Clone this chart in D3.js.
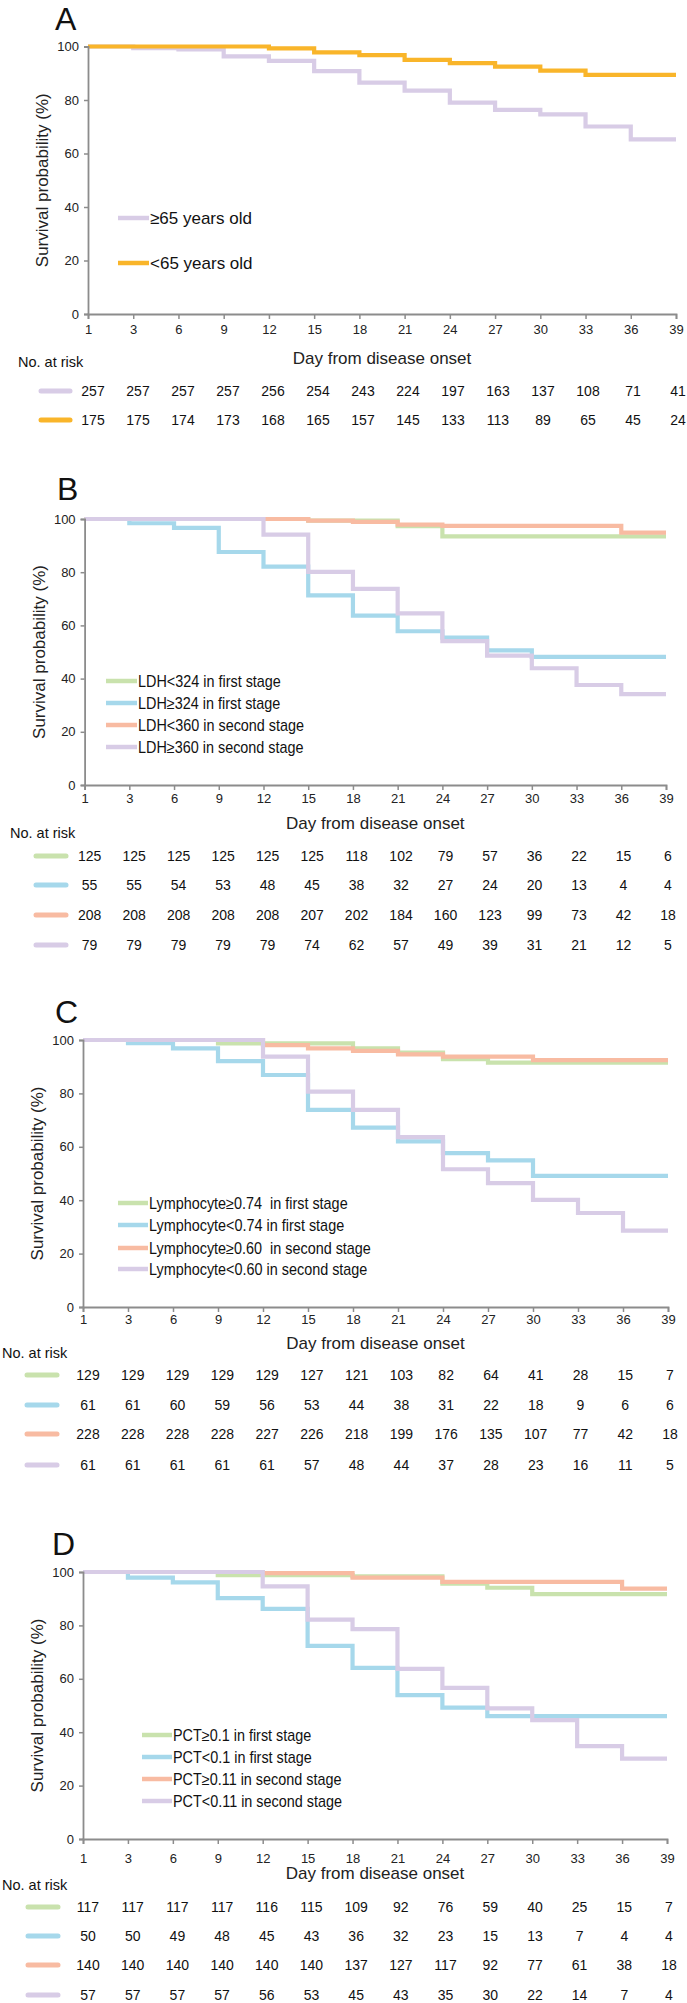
<!DOCTYPE html>
<html>
<head>
<meta charset="utf-8">
<script src="https://cdn.jsdelivr.net/npm/d3@7"></script>
<style>
  html, body { margin: 0; padding: 0; background: #fff; }
  svg { display: block; font-family: "Liberation Sans", Arial, sans-serif; }
  text { white-space: pre; }
</style>
</head>
<body>
<svg id="chart" width="687" height="2003"></svg>
<script>
// ---------- data ----------
const days = ["1","3","6","9","12","15","18","21","24","27","30","33","36","39"];
const yTicks = [0, 20, 40, 60, 80, 100];

// Panel A: survival (%) on each interval between consecutive day ticks
const survA_old   = [100, 99.4, 98.9, 96.3, 94.6, 90.8, 86.5, 83.5, 79.0, 76.3, 74.6, 70.1, 65.3];
const survA_young = [100, 100, 100, 100, 99.3, 97.8, 96.8, 95.0, 93.8, 92.5, 91.0, 89.4, 89.4];
const riskA_old   = [257,257,257,257,256,254,243,224,197,163,137,108,71,41];
const riskA_young = [175,175,174,173,168,165,157,145,133,113,89,65,45,24];
const labelsA = ["\u226565 years old", "<65 years old"];

// Panel B: LDH
const survB1 = [100, 100, 100, 100, 100, 99.4, 99.4, 97.3, 93.5, 93.5, 93.5, 93.5, 93.5];
const survB2 = [100, 98.4, 96.7, 87.6, 82.1, 71.3, 63.7, 57.8, 55.4, 50.6, 48.2, 48.2, 48.2];
const survB3 = [100, 100, 100, 100, 100, 99.4, 98.9, 97.9, 97.4, 97.4, 97.4, 97.4, 94.9];
const survB4 = [100, 100, 100, 100, 94.1, 80.1, 73.7, 64.5, 54.1, 48.6, 43.9, 37.6, 34.2];
const riskB1 = [125,125,125,125,125,125,118,102,79,57,36,22,15,6];
const riskB2 = [55,55,54,53,48,45,38,32,27,24,20,13,4,4];
const riskB3 = [208,208,208,208,208,207,202,184,160,123,99,73,42,18];
const riskB4 = [79,79,79,79,79,74,62,57,49,39,31,21,12,5];
const labelsB = ["LDH<324 in first stage", "LDH\u2265324 in first stage", "LDH<360 in second stage", "LDH\u2265360 in second stage"];

// Panel C: Lymphocyte
const survC1 = [100, 100, 100, 98.7, 98.7, 98.7, 96.9, 95.3, 92.8, 91.5, 91.5, 91.5, 91.5];
const survC2 = [100, 98.8, 96.9, 92.1, 86.9, 73.8, 67.2, 62.0, 57.6, 54.9, 49.1, 49.1, 49.1];
const survC3 = [100, 100, 100, 100, 98.1, 96.9, 95.9, 94.6, 93.8, 93.8, 92.5, 92.5, 92.5];
const survC4 = [100, 100, 100, 100, 93.8, 80.7, 73.8, 63.6, 51.6, 46.4, 40.1, 35.2, 28.6];
const riskC1 = [129,129,129,129,129,127,121,103,82,64,41,28,15,7];
const riskC2 = [61,61,60,59,56,53,44,38,31,22,18,9,6,6];
const riskC3 = [228,228,228,228,227,226,218,199,176,135,107,77,42,18];
const riskC4 = [61,61,61,61,61,57,48,44,37,28,23,16,11,5];
const labelsC = ["Lymphocyte\u22650.74  in first stage", "Lymphocyte<0.74 in first stage", "Lymphocyte\u22650.60  in second stage", "Lymphocyte<0.60 in second stage"];

// Panel D: PCT
const survD1 = [100, 100, 100, 98.8, 98.8, 98.8, 98.4, 98.4, 95.6, 94.1, 91.7, 91.7, 91.7];
const survD2 = [100, 97.9, 96.1, 90.2, 86.2, 72.3, 64.1, 53.9, 49.2, 46.0, 46.0, 46.0, 46.0];
const survD3 = [100, 100, 100, 100, 99.6, 99.6, 97.9, 97.9, 96.3, 96.3, 96.3, 96.3, 93.8];
const survD4 = [100, 100, 100, 100, 94.6, 82.2, 78.6, 63.7, 56.6, 48.9, 44.5, 34.8, 30.1];
const riskD1 = [117,117,117,117,116,115,109,92,76,59,40,25,15,7];
const riskD2 = [50,50,49,48,45,43,36,32,23,15,13,7,4,4];
const riskD3 = [140,140,140,140,140,140,137,127,117,92,77,61,38,18];
const riskD4 = [57,57,57,57,56,53,45,43,35,30,22,14,7,4];
const labelsD = ["PCT\u22650.1 in first stage", "PCT<0.1 in first stage", "PCT\u22650.11 in second stage", "PCT<0.11 in second stage"];

// ---------- styles ----------
const cLav = "#d8cce6", cYel = "#f9b52a", cGreen = "#c9e2ad", cBlue = "#a6d8eb", cSalmon = "#f8bba2";
const axisColor = "#8c8c8c";

const panels = [
  { letter: "A", lx: 55, ly: 30, x0: 88, x1: 676, yTop: 46.5, yBot: 314,
    tickPad: 6, titleY: 358, ytitleX: 42,
    series: [survA_old, survA_young], colors: [cLav, cYel], labels: labelsA,
    legX: 118, legW: 31, legY: [218, 263], legFont: 17, legScale: 1,
    riskLabelX: 18, riskLabelY: 362, risk: [riskA_old, riskA_young], riskY: [391, 420],
    swX: 41, swW: 29 },
  { letter: "B", lx: 57, ly: 500, x0: 84.6, x1: 666, yTop: 519, yBot: 785,
    tickPad: 4, titleY: 823, ytitleX: 39,
    series: [survB1, survB2, survB3, survB4], colors: [cGreen, cBlue, cSalmon, cLav], labels: labelsB,
    legX: 106, legW: 31, legY: [681, 703, 725, 747], legFont: 16, legScale: 0.9,
    riskLabelX: 10, riskLabelY: 833, risk: [riskB1, riskB2, riskB3, riskB4], riskY: [856, 885, 915, 945],
    swX: 36, swW: 30 },
  { letter: "C", lx: 55, ly: 1023, x0: 83, x1: 668, yTop: 1040, yBot: 1307,
    tickPad: 3, titleY: 1343, ytitleX: 37,
    series: [survC1, survC2, survC3, survC4], colors: [cGreen, cBlue, cSalmon, cLav], labels: labelsC,
    legX: 118, legW: 30, legY: [1203, 1225, 1248, 1269], legFont: 16, legScale: 0.9,
    riskLabelX: 2, riskLabelY: 1353, risk: [riskC1, riskC2, riskC3, riskC4], riskY: [1375, 1405, 1434, 1465],
    swX: 27, swW: 30 },
  { letter: "D", lx: 52, ly: 1555, x0: 83, x1: 667, yTop: 1572, yBot: 1839,
    tickPad: 10, titleY: 1873, ytitleX: 37,
    series: [survD1, survD2, survD3, survD4], colors: [cGreen, cBlue, cSalmon, cLav], labels: labelsD,
    legX: 142, legW: 30, legY: [1735, 1757, 1779, 1801], legFont: 16, legScale: 0.9,
    riskLabelX: 2, riskLabelY: 1885, risk: [riskD1, riskD2, riskD3, riskD4], riskY: [1907, 1936, 1965, 1995],
    swX: 28, swW: 30 }
];

const svg = d3.select("#chart");

panels.forEach(p => {
  const g = svg.append("g");
  const x = d3.scalePoint().domain(days).range([p.x0, p.x1]);
  const y = d3.scaleLinear().domain([0, 100]).range([p.yBot, p.yTop]);

  // panel letter
  g.append("text").attr("x", p.lx).attr("y", p.ly)
    .attr("font-size", 32).attr("fill", "#111").text(p.letter);

  // survival step curves
  const line = d3.line().x(d => x(d[0])).y(d => y(d[1])).curve(d3.curveStepAfter);
  p.series.forEach((s, i) => {
    const pts = s.map((v, k) => [days[k], v]);
    pts.push([days[days.length - 1], s[s.length - 1]]);
    g.append("path").attr("d", line(pts)).attr("fill", "none")
      .attr("stroke", p.colors[i]).attr("stroke-width", 4.2);
  });

  // axes
  const ya = g.append("g").attr("transform", `translate(${p.x0},0)`)
    .call(d3.axisLeft(y).tickValues(yTicks).tickSize(4).tickPadding(5));
  const xa = g.append("g").attr("transform", `translate(0,${p.yBot})`)
    .call(d3.axisBottom(x).tickSize(5).tickPadding(p.tickPad));
  [ya, xa].forEach(a => {
    a.select(".domain").attr("stroke", axisColor).attr("stroke-width", 1.8);
    a.selectAll(".tick line").attr("stroke", axisColor).attr("stroke-width", 1.5);
    a.selectAll(".tick text").attr("font-size", 13).attr("fill", "#222")
      .attr("font-family", "'Liberation Sans', Arial, sans-serif");
  });

  // axis titles
  g.append("text").attr("transform", `translate(${p.ytitleX},${(p.yTop + p.yBot) / 2}) rotate(-90)`)
    .attr("text-anchor", "middle").attr("dominant-baseline", "central")
    .attr("font-size", 17).attr("fill", "#222").text("Survival probability (%)");
  g.append("text").attr("x", (p.x0 + p.x1) / 2).attr("y", p.titleY)
    .attr("text-anchor", "middle").attr("dominant-baseline", "central")
    .attr("font-size", 17).attr("fill", "#222").text("Day from disease onset");

  // legend
  p.labels.forEach((lab, i) => {
    const ly = p.legY[i];
    g.append("line").attr("x1", p.legX).attr("x2", p.legX + p.legW)
      .attr("y1", ly).attr("y2", ly).attr("stroke", p.colors[i]).attr("stroke-width", 4.5);
    g.append("text")
      .attr("transform", `translate(${p.legX + p.legW + 1},${ly}) scale(${p.legScale},1)`)
      .attr("dominant-baseline", "central").attr("font-size", p.legFont)
      .attr("fill", "#111").text(lab);
  });

  // number at risk table
  g.append("text").attr("x", p.riskLabelX).attr("y", p.riskLabelY)
    .attr("dominant-baseline", "central").attr("font-size", 14.5).attr("fill", "#111")
    .text("No. at risk");
  const xr = d3.scalePoint().domain(days).range([p.x0 + 5, p.x1 + 2]);
  p.risk.forEach((row, i) => {
    const ry = p.riskY[i];
    g.append("line").attr("x1", p.swX).attr("x2", p.swX + p.swW)
      .attr("y1", ry).attr("y2", ry).attr("stroke", p.colors[i])
      .attr("stroke-width", 5).attr("stroke-linecap", "round");
    g.selectAll(null).data(row).enter().append("text")
      .attr("x", (d, k) => xr(days[k])).attr("y", ry)
      .attr("text-anchor", "middle").attr("dominant-baseline", "central")
      .attr("font-size", 14).attr("fill", "#111").text(d => d);
  });
});
</script>
</body>
</html>
